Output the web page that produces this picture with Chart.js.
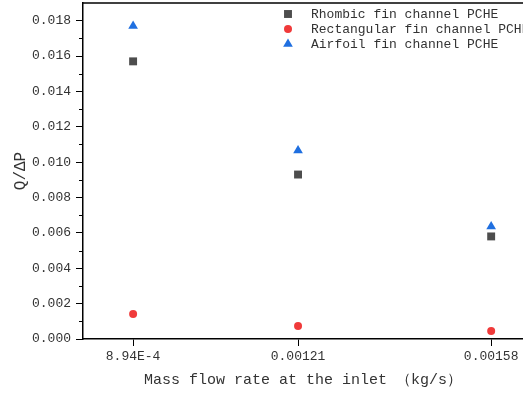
<!DOCTYPE html>
<html>
<head>
<meta charset="utf-8">
<script src="https://cdn.jsdelivr.net/npm/chart.js@4"></script>
<style>
  html, body { margin: 0; padding: 0; background: #fff; }
  #box { width: 523px; height: 393px; }
</style>
</head>
<body>
<div id="box"><canvas id="scatterChart"></canvas></div>
<script>
// values
const xValues = [0.000894, 0.00121, 0.00158]
const xTickLabels = ['8.94E-4', '0.00121', '0.00158']
const rhombic = [0.0157, 0.0093, 0.0058]
const rectangular = [0.00142, 0.00074, 0.00045]
const airfoil = [0.0177, 0.01066, 0.00636]
const seriesNames = ['Rhombic fin channel PCHE', 'Rectangular fin channel PCHE', 'Airfoil fin channel PCHE']

const MONO = '"Liberation Mono", "DejaVu Sans Mono", monospace'

const toPoints = (ys) => ys.map((y, i) => ({ x: xValues[i], y: y }))

// top frame line, minor y ticks, legend in the corner
const extras = {
    id: 'extras',
    afterDraw(chart) {
        const ctx = chart.ctx
        const area = chart.chartArea
        const yScale = chart.scales.y
        ctx.save()
        ctx.strokeStyle = '#000'
        ctx.lineWidth = 1.5
        ctx.beginPath()
        ctx.moveTo(area.left, area.top)
        ctx.lineTo(area.right, area.top)
        ctx.stroke()

        ctx.lineWidth = 1
        const t = yScale.ticks
        for (let i = 0; i < t.length - 1; i++) {
            const py = yScale.getPixelForValue((t[i].value + t[i + 1].value) / 2)
            ctx.beginPath()
            ctx.moveTo(area.left - 4, Math.round(py) + 0.5)
            ctx.lineTo(area.left, Math.round(py) + 0.5)
            ctx.stroke()
        }

        // legend
        ctx.font = '13px ' + MONO
        ctx.textBaseline = 'middle'
        chart.data.datasets.forEach((ds, i) => {
            const ly = 14 + i * 15
            ctx.fillStyle = ds.backgroundColor
            ctx.strokeStyle = ds.backgroundColor
            Chart.helpers.drawPoint(ctx, { pointStyle: ds.pointStyle, radius: ds.pointRadius, borderWidth: 0, rotation: 0 }, 288, ly)
            ctx.fillStyle = '#333'
            ctx.fillText(ds.label, 311, ly + 1)
        })
        ctx.restore()
    }
}

new Chart(document.getElementById('scatterChart'), {
    type: 'scatter',
    data: {
        datasets: [
            {
                label: seriesNames[0],
                data: toPoints(rhombic),
                pointStyle: 'rect',
                pointRadius: 5.6,
                backgroundColor: '#4d4d4d',
                borderColor: '#4d4d4d',
                borderWidth: 0
            },
            {
                label: seriesNames[1],
                data: toPoints(rectangular),
                pointStyle: 'circle',
                pointRadius: 4,
                backgroundColor: '#f03a3a',
                borderColor: '#f03a3a',
                borderWidth: 0
            },
            {
                label: seriesNames[2],
                data: toPoints(airfoil),
                pointStyle: 'triangle',
                pointRadius: 5.6,
                backgroundColor: '#1f6fe0',
                borderColor: '#1f6fe0',
                borderWidth: 0
            }
        ]
    },
    options: {
        responsive: true,
        maintainAspectRatio: false,
        animation: false,
        layout: { autoPadding: false, padding: { top: 3, right: 0, left: 0, bottom: 0 } },
        plugins: {
            legend: { display: false },
            tooltip: { enabled: false }
        },
        scales: {
            x: {
                type: 'linear',
                min: 0.000798,
                max: 0.001641,
                afterBuildTicks: (scale) => {
                    scale.ticks = xValues.map(v => ({ value: v }))
                },
                afterFit: (scale) => {
                    scale.height = 54
                    scale.paddingLeft = 0
                    scale.paddingRight = 0
                },
                ticks: {
                    callback: (v, i) => xTickLabels[i],
                    color: '#333',
                    font: { family: MONO, size: 13 },
                    padding: 3,
                    maxRotation: 0
                },
                grid: { drawOnChartArea: false, tickLength: 7, color: '#000', tickWidth: 1 },
                border: { display: true, color: '#000', width: 1.5 },
                title: {
                    display: true,
                    text: 'Mass flow rate at the inlet （kg/s）',
                    color: '#333',
                    font: { family: MONO, size: 15 },
                    padding: { top: 0, bottom: 4 }
                }
            },
            y: {
                min: 0,
                max: 0.019,
                afterFit: (scale) => {
                    scale.width = 83
                    scale.paddingTop = 0
                    scale.paddingBottom = 0
                },
                ticks: {
                    stepSize: 0.002,
                    includeBounds: false,
                    callback: (v) => v.toFixed(3),
                    color: '#333',
                    font: { family: MONO, size: 13 },
                    padding: 5
                },
                grid: { drawOnChartArea: false, tickLength: 7, color: '#000', tickWidth: 1 },
                border: { display: true, color: '#000', width: 1.5 },
                title: {
                    display: true,
                    text: 'Q/ΔP',
                    color: '#333',
                    font: { family: MONO, size: 16 },
                    padding: { top: 11, bottom: 0 }
                }
            }
        }
    },
    plugins: [extras]
})
</script>
</body>
</html>
